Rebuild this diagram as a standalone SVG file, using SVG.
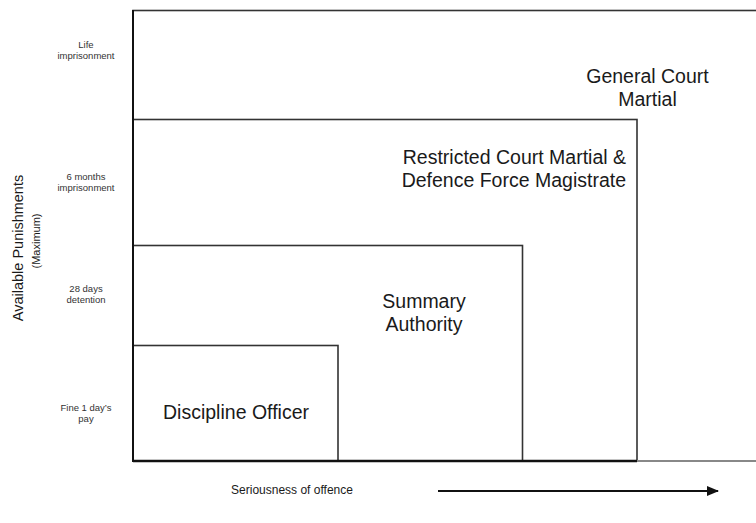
<svg xmlns="http://www.w3.org/2000/svg" width="756" height="523" viewBox="0 0 756 523">
<style>
.box{fill:none;stroke:#333;stroke-width:1.6}
.lbl{font-family:"Liberation Sans",Arial,Helvetica,sans-serif;font-size:19.5px;fill:#1a1a1a}
.sm{font-family:"Liberation Sans",Arial,Helvetica,sans-serif;font-size:9.5px;fill:#333;text-anchor:middle}
.ax{font-family:"Liberation Sans",Arial,Helvetica,sans-serif;fill:#1a1a1a}
</style>
<defs>
<marker id="ah" markerWidth="12" markerHeight="10" refX="11" refY="5" orient="auto" markerUnits="userSpaceOnUse">
<path d="M0,0 L12,5 L0,10 Z" fill="#111"/>
</marker>
</defs>
<rect width="756" height="523" fill="#fff"/>
<g id="general-court-martial">
<rect class="box" x="133" y="10.5" width="640" height="450.5" stroke="#555"/>
<text class="lbl" x="647.5" y="83" text-anchor="middle">General Court</text>
<text class="lbl" x="647.5" y="106" text-anchor="middle">Martial</text>
</g>
<g id="restricted-court-martial">
<rect class="box" x="133" y="119.5" width="504" height="341.5"/>
<text class="lbl" x="626" y="164" text-anchor="end">Restricted Court Martial &amp;</text>
<text class="lbl" x="626" y="187" text-anchor="end">Defence Force Magistrate</text>
</g>
<g id="summary-authority">
<rect class="box" x="133" y="245.5" width="389.5" height="215.5"/>
<text class="lbl" x="424" y="308" text-anchor="middle">Summary</text>
<text class="lbl" x="424" y="331" text-anchor="middle">Authority</text>
</g>
<g id="discipline-officer">
<rect class="box" x="133" y="345.5" width="205" height="115.5"/>
<text class="lbl" x="236" y="419" text-anchor="middle">Discipline Officer</text>
</g>
<g id="axes">
<line x1="133" y1="461" x2="637" y2="461" stroke="#111" stroke-width="2.5"/>
<line x1="637" y1="461" x2="756" y2="461" stroke="#888" stroke-width="2"/>
<line x1="133" y1="10" x2="133" y2="462" stroke="#111" stroke-width="2"/>
<text class="ax" font-size="14.5" transform="translate(23,248) rotate(-90)" text-anchor="middle">Available Punishments</text>
<text class="ax" font-size="11" transform="translate(40,241) rotate(-90)" text-anchor="middle">(Maximum)</text>
<text class="ax" font-size="12" x="292" y="494" text-anchor="middle">Seriousness of offence</text>
</g>
<g id="connectors">
<line x1="438" y1="491" x2="718" y2="491" stroke="#111" stroke-width="2" marker-end="url(#ah)"/>
</g>
<g id="punishment-labels">
<text class="sm" x="86" y="48">Life</text>
<text class="sm" x="86" y="59">imprisonment</text>
<text class="sm" x="86" y="180">6 months</text>
<text class="sm" x="86" y="191">imprisonment</text>
<text class="sm" x="86" y="292">28 days</text>
<text class="sm" x="86" y="303">detention</text>
<text class="sm" x="86" y="411">Fine 1 day’s</text>
<text class="sm" x="86" y="422">pay</text>
</g>
</svg>
